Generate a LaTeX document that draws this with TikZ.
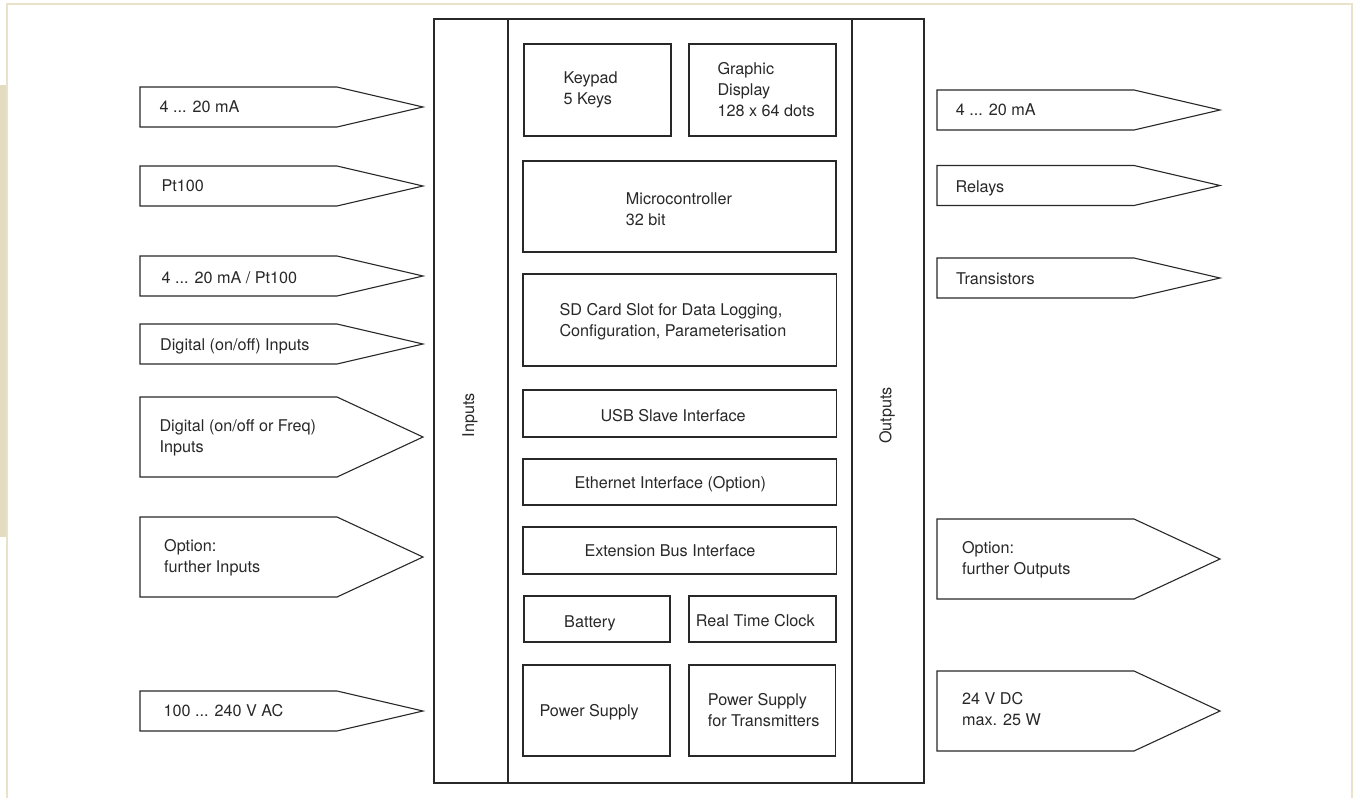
\documentclass[tikz,border=0pt]{standalone}
\usepackage{fontspec}
\setmainfont{TeX Gyre Heros}
\definecolor{beige}{RGB}{227,220,192}
\definecolor{beigeline}{RGB}{232,226,202}
\definecolor{ink}{RGB}{40,40,40}
\tikzset{
  lbl/.style={anchor=base west, inner sep=0pt, align=left, text=ink, font=\fontsize{16.2}{21}\selectfont},
  vlbl/.style={anchor=center, inner sep=0pt, rotate=90, text=ink, font=\fontsize{16.2}{21}\selectfont},
  ln/.style={draw=ink, line width=1.1pt, line join=miter},
}
\newcommand{\pent}[5]{\draw[ln] (#1,#2) -- (#3,#2) -- (#5,{(#2+#4)/2}) -- (#3,#4) -- (#1,#4) -- cycle;}
\begin{document}
\begin{tikzpicture}[x=1pt,y=-1pt]
\useasboundingbox (0,0) rectangle (1354,798);
% frame
\fill[beige] (0,85) rectangle (7.5,537);
\draw[beigeline, line width=2pt] (7,798) -- (7,4.3) -- (1351.5,4.3) -- (1351.5,798);
% main box
\draw[ln] (434,19) rectangle (924,783);
\draw[ln] (508,19) -- (508,783);
\draw[ln] (852,19) -- (852,783);
\node[vlbl] (inputs) at (470,415.3) {Inputs};
\node[vlbl] (outputs) at (887,415.3) {Outputs};
% left arrows
\pent{140}{87}{337}{127}{423}
\pent{140}{166}{337}{206}{423}
\pent{140}{256}{337}{296}{423}
\pent{140}{324}{337}{364}{423}
\pent{140}{397}{337}{477}{423}
\pent{140}{517}{337}{597}{423}
\pent{140}{691}{337}{731}{423}
\node[lbl] (a1) at (159.3,112) {4 ... 20 mA};
\node[lbl] (a2) at (161.3,191) {Pt100};
\node[lbl] (a3) at (161.3,283) {4 ... 20 mA / Pt100};
\node[lbl] (a4) at (160,350.5) {Digital (on/off) Inputs};
\node[lbl] (a5) at (159.3,452) {Digital (on/off or Freq)\\Inputs};
\node[lbl] (a6) at (164,572) {Option:\\further Inputs};
\node[lbl] (a7) at (163.3,716.5) {100 ... 240 V AC};
% right arrows
\pent{937}{90}{1134}{130}{1220}
\pent{937}{165.5}{1134}{205.5}{1220}
\pent{937}{258}{1134}{298}{1220}
\pent{937}{519}{1134}{599}{1220}
\pent{937}{671}{1134}{751}{1220}
\node[lbl] (b1) at (955.7,115) {4 ... 20 mA};
\node[lbl] (b2) at (955.3,192) {Relays};
\node[lbl] (b3) at (956,284) {Transistors};
\node[lbl] (b4) at (961.8,574.5) {Option:\\further Outputs};
\node[lbl] (b5) at (961.8,725) {24 V DC\\max. 25 W};
% center boxes
\draw[ln] (524,44) rectangle (671,136);
\draw[ln] (689,44) rectangle (836,136);
\draw[ln] (523,161) rectangle (836,252);
\draw[ln] (523,274) rectangle (836.5,366);
\draw[ln] (523,390) rectangle (836.5,437);
\draw[ln] (523,459) rectangle (836.5,505);
\draw[ln] (523,527) rectangle (836.5,574);
\draw[ln] (524,596) rectangle (670,642);
\draw[ln] (689,596) rectangle (836,642);
\draw[ln] (523,665) rectangle (670,756);
\draw[ln] (689,665) rectangle (835.5,756);
\node[lbl] (keypad) at (563.3,104) {Keypad\\5 Keys};
\node[lbl] (display) at (717.3,116.3) {Graphic\\Display\\128 x 64 dots};
\node[lbl] (micro) at (625.7,225) {Microcontroller\\32 bit};
\node[lbl] (sd) at (559.3,336.7) {SD Card Slot for Data Logging,\\Configuration, Parameterisation};
\node[lbl] (usb) at (600.3,421.3) {USB Slave Interface};
\node[lbl] (eth) at (574.3,488) {Ethernet Interface (Option)};
\node[lbl] (ext) at (584.3,556.7) {Extension Bus Interface};
\node[lbl] (bat) at (564,627.7) {Battery};
\node[lbl] (rtc) at (695.7,626.7) {Real Time Clock};
\node[lbl] (ps) at (539.3,716.7) {Power Supply};
\node[lbl] (pst) at (707.7,726.7) {Power Supply\\for Transmitters};
\end{tikzpicture}
\end{document}
